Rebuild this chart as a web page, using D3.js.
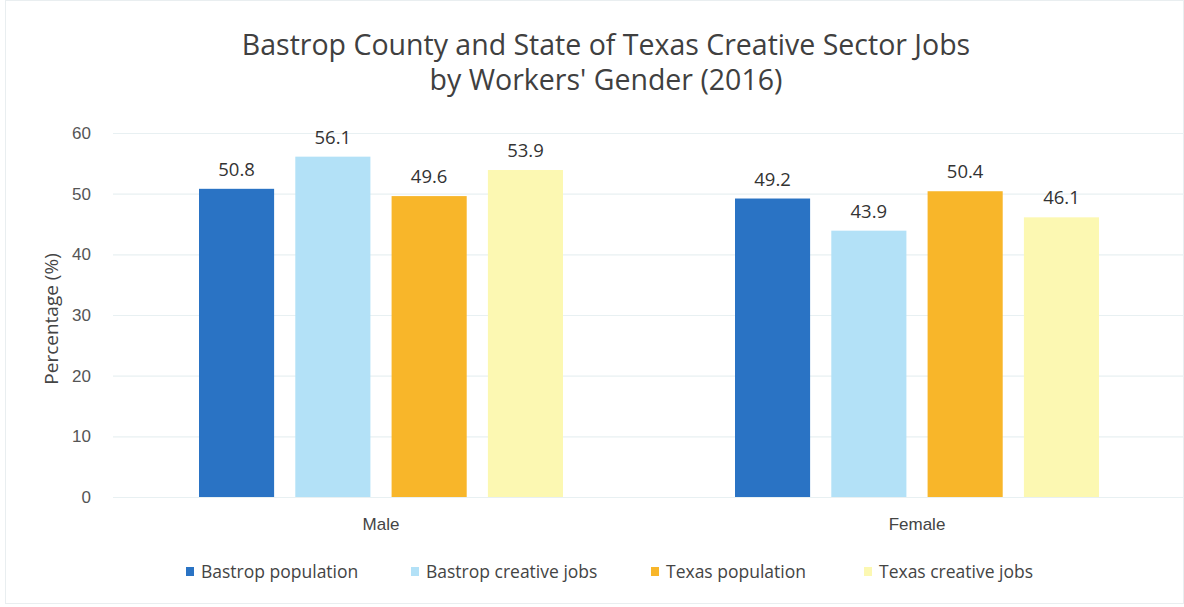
<!DOCTYPE html>
<html>
<head>
<meta charset="utf-8">
<script src="https://cdn.jsdelivr.net/npm/d3@7"></script>
<style>
  html, body { margin: 0; padding: 0; background: #ffffff; }
  svg { display: block; font-family: "Open Sans", "Noto Sans", sans-serif; }
</style>
</head>
<body>
<svg id="chart" width="1184" height="607"></svg>
<script>
// ---- data ----
const categories = ["Male", "Female"];
const seriesNames = ["Bastrop population", "Bastrop creative jobs", "Texas population", "Texas creative jobs"];
const bastropPopulation = [50.8, 49.2];
const bastropCreative = [56.1, 43.9];
const texasPopulation = [49.6, 50.4];
const texasCreative = [53.9, 46.1];
const yTicks = [0, 10, 20, 30, 40, 50, 60];
const titleLines = ["Bastrop County and State of Texas Creative Sector Jobs", "by Workers' Gender (2016)"];
const yLabel = "Percentage (%)";

const seriesValues = [bastropPopulation, bastropCreative, texasPopulation, texasCreative];
const colors = ["#2a73c4", "#b3e1f7", "#f8b62a", "#fcf8b2"];

const svg = d3.select("#chart");
const W = 1184, H = 607;

// faint border
svg.append("rect").attr("x", 5.5).attr("y", 0.5).attr("width", W - 6).attr("height", H - 4)
  .attr("fill", "none").attr("stroke", "#e9eef0").attr("stroke-width", 1);

const plot = { left: 113, right: 1185, top: 133, bottom: 497 };

const x0 = d3.scaleBand().domain(categories).range([plot.left, plot.right]).paddingInner(0).paddingOuter(0);
const x1 = d3.scaleBand().domain(seriesNames).range([86, 450]).paddingInner(0.22).paddingOuter(0);
const y = d3.scaleLinear().domain([0, 60]).range([plot.bottom, plot.top]);

// gridlines
const yAxis = d3.axisLeft(y).tickValues(yTicks).tickSize(-(W - plot.left)).tickPadding(22);
const gy = svg.append("g").attr("transform", `translate(${plot.left},0)`).call(yAxis);
gy.select(".domain").remove();
gy.selectAll(".tick line").attr("stroke", "#e8f0f2").attr("stroke-width", 1.2);
gy.selectAll(".tick text").attr("fill", "#555").style("font-size", "17px");

// bars
const groups = svg.append("g").selectAll("g").data(categories).join("g")
  .attr("transform", d => `translate(${x0(d)},0)`);

groups.each(function(cat, ci) {
  const g = d3.select(this);
  seriesNames.forEach((s, si) => {
    const v = seriesValues[si][ci];
    g.append("rect")
      .attr("x", x1(s))
      .attr("y", y(v))
      .attr("width", x1.bandwidth())
      .attr("height", y(0) - y(v))
      .attr("fill", colors[si]);
    g.append("text")
      .attr("x", x1(s) + x1.bandwidth() / 2)
      .attr("y", y(v) - 13)
      .attr("text-anchor", "middle")
      .attr("fill", "#333")
      .style("font-size", "18.5px")
      .text(v.toFixed(1));
  });
});

// x axis labels
const xAxis = d3.axisBottom(x0).tickSize(0).tickPadding(21);
const gx = svg.append("g").attr("transform", `translate(0,${plot.bottom})`).call(xAxis);
gx.select(".domain").remove();
gx.selectAll(".tick text").attr("fill", "#444").style("font-size", "17px");

// y label
svg.append("text")
  .attr("transform", `translate(58,${(plot.top + plot.bottom) / 2 + 4}) rotate(-90)`)
  .attr("text-anchor", "middle")
  .attr("fill", "#444")
  .style("font-size", "19px")
  .text(yLabel);

// title
svg.append("text")
  .attr("x", 606).attr("y", 55)
  .attr("text-anchor", "middle")
  .attr("fill", "#404040")
  .style("font-size", "28.5px")
  .selectAll("tspan").data(titleLines).join("tspan")
  .attr("x", 606)
  .attr("dy", (d, i) => i === 0 ? 0 : 35)
  .text(d => d);

// legend
const legendX = [186, 411, 651, 864];
const legend = svg.append("g").selectAll("g").data(seriesNames).join("g")
  .attr("transform", (d, i) => `translate(${legendX[i]},572)`);
legend.append("rect").attr("x", 0).attr("y", -5).attr("width", 8).attr("height", 9)
  .attr("fill", (d, i) => colors[i]);
legend.append("text").attr("x", 15).attr("y", 6)
  .attr("fill", "#444").style("font-size", "17.5px").text(d => d);
</script>
</body>
</html>
